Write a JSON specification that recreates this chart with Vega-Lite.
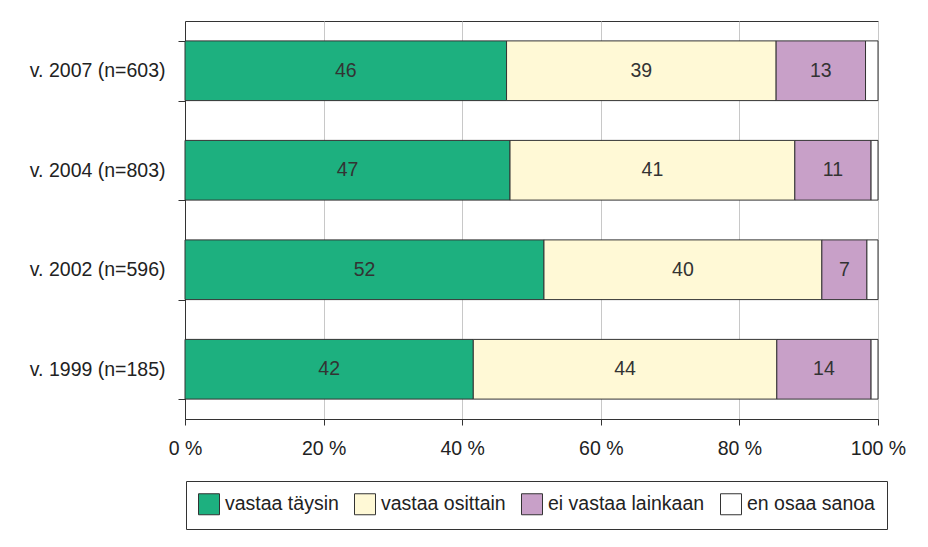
{
  "$schema": "https://vega.github.io/schema/vega-lite/v6.json",
  "width": 693,
  "height": 398,
  "autosize": {"type": "none"},
  "padding": {"left": 185, "top": 21, "right": 50, "bottom": 128},
  "background": "white",
  "data": {
    "values": [
      {"year": "v. 2007 (n=603)", "cat": "vastaa täysin", "k": 1, "value": 46.4},
      {"year": "v. 2007 (n=603)", "cat": "vastaa osittain", "k": 2, "value": 38.9},
      {"year": "v. 2007 (n=603)", "cat": "ei vastaa lainkaan", "k": 3, "value": 12.9},
      {"year": "v. 2007 (n=603)", "cat": "en osaa sanoa", "k": 4, "value": 1.8},
      {"year": "v. 2004 (n=803)", "cat": "vastaa täysin", "k": 1, "value": 46.9},
      {"year": "v. 2004 (n=803)", "cat": "vastaa osittain", "k": 2, "value": 41.1},
      {"year": "v. 2004 (n=803)", "cat": "ei vastaa lainkaan", "k": 3, "value": 11.0},
      {"year": "v. 2004 (n=803)", "cat": "en osaa sanoa", "k": 4, "value": 1.0},
      {"year": "v. 2002 (n=596)", "cat": "vastaa täysin", "k": 1, "value": 51.8},
      {"year": "v. 2002 (n=596)", "cat": "vastaa osittain", "k": 2, "value": 40.1},
      {"year": "v. 2002 (n=596)", "cat": "ei vastaa lainkaan", "k": 3, "value": 6.5},
      {"year": "v. 2002 (n=596)", "cat": "en osaa sanoa", "k": 4, "value": 1.6},
      {"year": "v. 1999 (n=185)", "cat": "vastaa täysin", "k": 1, "value": 41.6},
      {"year": "v. 1999 (n=185)", "cat": "vastaa osittain", "k": 2, "value": 43.8},
      {"year": "v. 1999 (n=185)", "cat": "ei vastaa lainkaan", "k": 3, "value": 13.6},
      {"year": "v. 1999 (n=185)", "cat": "en osaa sanoa", "k": 4, "value": 1.0}
    ]
  },
  "encoding": {
    "y": {
      "field": "year",
      "type": "nominal",
      "sort": ["v. 2007 (n=603)", "v. 2004 (n=803)", "v. 2002 (n=596)", "v. 1999 (n=185)"],
      "scale": {"paddingInner": 0.4, "paddingOuter": 0.2},
      "axis": {
        "title": null,
        "tickBand": "extent",
        "tickSize": 7,
        "labelPadding": 13,
        "labelFontSize": 19.5,
        "labelColor": "#222222",
        "domainColor": "#333333",
        "tickColor": "#333333",
        "grid": false
      }
    },
    "order": {"field": "k", "type": "quantitative"}
  },
  "layer": [
    {
      "mark": {"type": "bar", "stroke": "#333333", "strokeWidth": 1},
      "encoding": {
        "x": {
          "field": "value",
          "type": "quantitative",
          "stack": "zero",
          "scale": {"domain": [0, 100], "nice": false},
          "axis": {
            "title": null,
            "values": [0, 20, 40, 60, 80, 100],
            "labelExpr": "datum.value + ' %'",
            "labelFlush": false,
            "grid": true,
            "gridColor": "#c8c8c8",
            "gridWidth": 1,
            "tickSize": 6,
            "tickColor": "#333333",
            "domainColor": "#333333",
            "labelPadding": 14,
            "labelFontSize": 19.5,
            "labelColor": "#222222"
          }
        },
        "color": {
          "field": "cat",
          "type": "nominal",
          "scale": {
            "domain": ["vastaa täysin", "vastaa osittain", "ei vastaa lainkaan", "en osaa sanoa"],
            "range": ["#1db07f", "#fff9d6", "#c8a0c8", "#ffffff"]
          },
          "legend": {
            "title": null,
            "orient": "none",
            "direction": "horizontal",
            "legendX": 1,
            "legendY": 460,
            "strokeColor": "#333333",
            "padding": 12,
            "symbolType": "square",
            "symbolSize": 441,
            "symbolStrokeColor": "#333333",
            "symbolStrokeWidth": 1,
            "symbolOpacity": 1,
            "labelFontSize": 19.5,
            "labelColor": "#222222",
            "labelOffset": 5,
            "columnPadding": 13
          }
        }
      }
    },
    {
      "transform": [{"filter": "datum.cat != 'en osaa sanoa'"}],
      "mark": {"type": "text", "fontSize": 19.5, "color": "#333333", "baseline": "middle", "align": "center"},
      "encoding": {
        "x": {"field": "value", "type": "quantitative", "stack": "zero", "bandPosition": 0.5},
        "detail": {"field": "cat", "type": "nominal"},
        "text": {"field": "value", "type": "quantitative", "format": ".0f"}
      }
    }
  ],
  "config": {
    "font": "Liberation Sans",
    "view": {"stroke": "#333333", "strokeWidth": 1}
  }
}
